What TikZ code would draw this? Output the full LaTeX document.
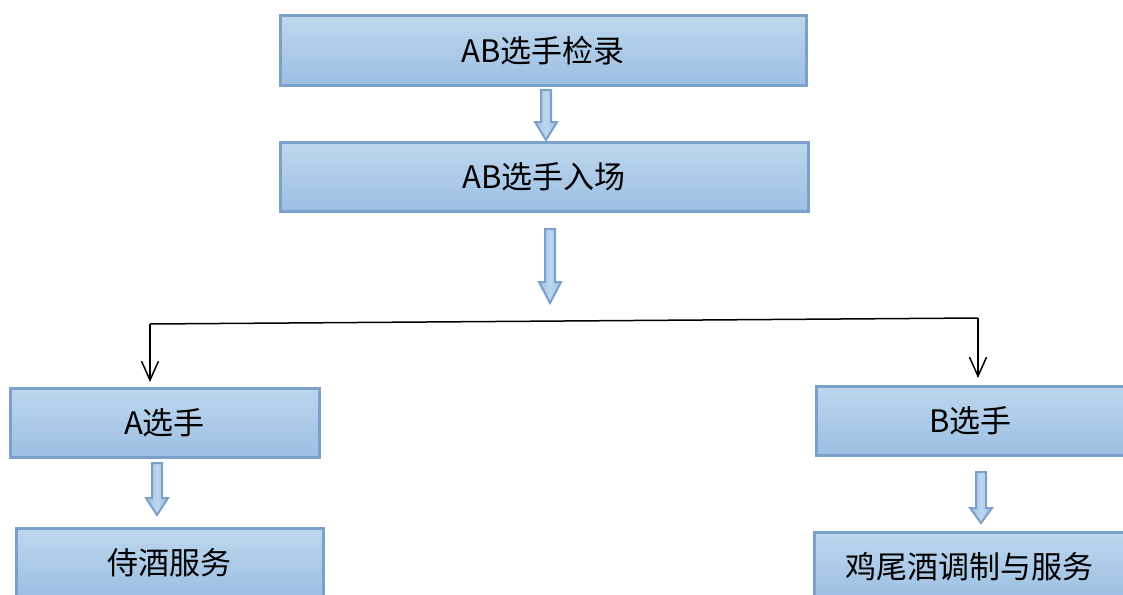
\documentclass[tikz,border=0pt]{standalone}
\usepackage{fontspec}
\setmainfont{Noto Sans CJK SC}
\usetikzlibrary{arrows.meta}
\definecolor{boxtop}{HTML}{BDD7EE}
\definecolor{boxbot}{HTML}{9DBFE3}
\definecolor{boxedge}{HTML}{7BA0C9}
\tikzset{
  stepbox/.style={rectangle, draw=boxedge, line width=3pt, top color=boxtop, bottom color=boxbot,
    minimum height=69pt, inner sep=0pt, font=\fontsize{31}{33}\selectfont, text=black},
  blockarrow/.style={draw=boxedge, line width=2pt, left color=boxbot, right color=boxbot, middle color=boxtop, line join=miter},
  thinlink/.style={draw=black, line width=1.5pt},
  thinarrow/.style={thinlink, -{Straight Barb[length=19pt,width=17pt,line width=1.5pt]}}
}
\newcommand\myblockarrow[4]{% x, ytop, yheadstart, ytip
  \path[blockarrow] (#1-5,#2) -- (#1+5,#2) -- (#1+5,#3) -- (#1+11,#3) -- (#1,#4) -- (#1-11,#3) -- (#1-5,#3) -- cycle;
}
\begin{document}
\begin{tikzpicture}[x=1pt,y=-1pt]
\useasboundingbox (0,0) rectangle (1123,594);
\fill[white] (0,0) rectangle (1123,594);
\clip (0,0) rectangle (1123,594);
\node[stepbox, minimum width=526pt] (check) at (543,50.5) {AB选手检录};
\node[stepbox, minimum width=528pt] (enter) at (544,176.5) {AB选手入场};
\node[stepbox, minimum width=309pt] (pa) at (164.5,422.5) {A选手};
\node[stepbox, minimum width=309pt] (pb) at (970.5,420.5) {B选手};
\node[stepbox, minimum width=307pt] (wine) at (169.5,562.5) {侍酒服务};
\node[stepbox, minimum width=311pt] (cock) at (969.5,566.5) {鸡尾酒调制与服务};
\myblockarrow{546}{90}{122}{140}
\myblockarrow{550}{229}{282}{303}
\myblockarrow{157}{463}{498}{515}
\myblockarrow{981}{472}{508}{523}
\coordinate (jl) at (150,324);
\coordinate (jr) at (978,318);
\draw[thinlink] (jl) -- (jr);
\draw[thinarrow] (jl) -- (150,382);
\draw[thinarrow] (jr) -- (978,378);
\end{tikzpicture}
\end{document}
